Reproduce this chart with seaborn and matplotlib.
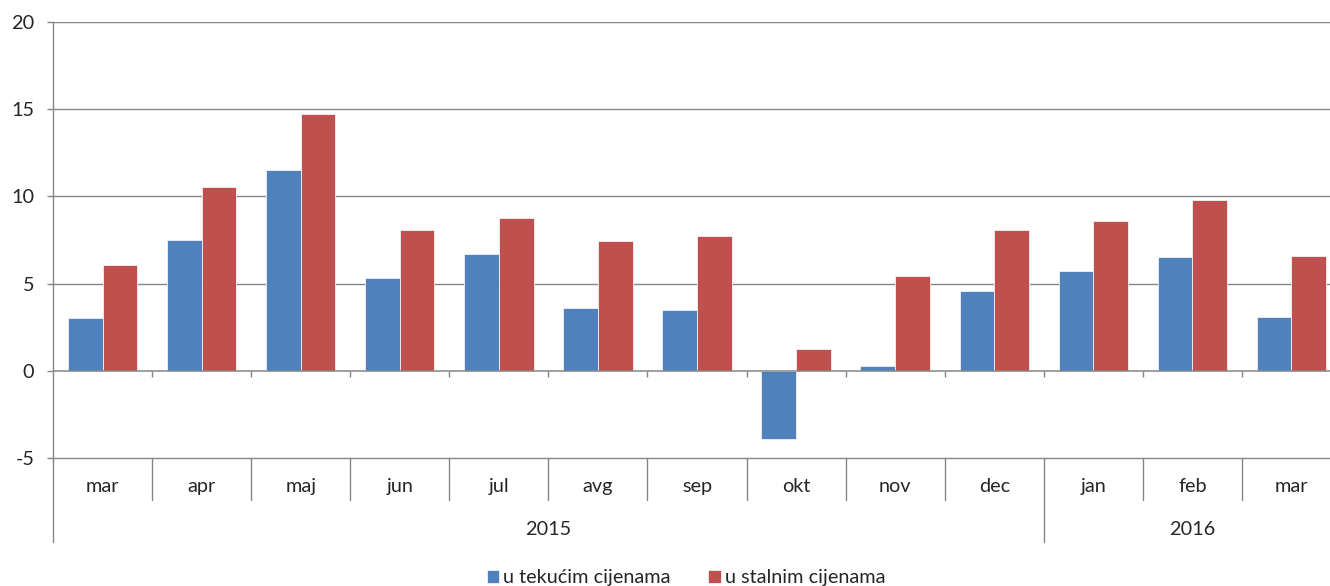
import pandas as pd
import numpy as np
import matplotlib
matplotlib.use('Agg')
import matplotlib.pyplot as plt
import matplotlib.transforms as mtransforms
import seaborn as sns

sns.set_style("white")
plt.rcParams['font.family'] = ['Lato', 'DejaVu Sans']
FS = 14.3
plt.rcParams['font.size'] = FS

# data
months = ['mar', 'apr', 'maj', 'jun', 'jul', 'avg', 'sep', 'okt', 'nov', 'dec', 'jan', 'feb', 'mar']
years = ['2015'] * 10 + ['2016'] * 3
tekuce = [3.0, 7.5, 11.5, 5.3, 6.7, 3.6, 3.5, -3.9, 0.3, 4.6, 5.75, 6.55, 3.1]
stalne = [6.05, 10.55, 14.7, 8.1, 8.75, 7.45, 7.75, 1.25, 5.45, 8.05, 8.6, 9.8, 6.6]
series = ['u tekućim cijenama', 'u stalnim cijenama']
colors = ['#4F81BD', '#C0504D']
y_ticks = [-5, 0, 5, 10, 15, 20]

periods = [f'{m} {y}' for m, y in zip(months, years)]
df = pd.DataFrame({
    'period': periods * 2,
    'value': tekuce + stalne,
    'serija': [series[0]] * len(periods) + [series[1]] * len(periods),
})

W, H = 1330, 586
fig = plt.figure(figsize=(W / 100, H / 100), dpi=100)
ax = fig.add_axes([53 / W, 128 / H, 1288 / W, 436 / H])

sns.barplot(data=df, x='period', y='value', hue='serija', order=periods,
            hue_order=series, palette=colors, width=0.7, ax=ax,
            edgecolor='#f2f2f2', linewidth=0.6, saturation=1)

grid_c = '#868686'
ax.set_ylim(-5, 20)
ax.set_xlim(-0.5, len(periods) - 0.5)
ax.set_yticks(y_ticks)
ax.set_yticklabels([str(t) for t in y_ticks])
ax.tick_params(axis='y', direction='out', length=4.5, width=1, color=grid_c, pad=9,
               labelsize=FS, left=True)
ax.set_xticks([])
ax.set_xlabel('')
ax.set_ylabel('')
for t in [5, 10, 15, 20]:
    ax.axhline(t, color=grid_c, lw=1, zorder=0)
ax.axhline(0, color=grid_c, lw=1.1, zorder=3)

for s in ['top', 'right']:
    ax.spines[s].set_visible(False)
ax.spines['left'].set_color(grid_c)
ax.spines['bottom'].set_color(grid_c)
ax.spines['left'].set_linewidth(1)
ax.spines['bottom'].set_linewidth(1)

# small tick marks under the zero line at category boundaries
bounds = np.arange(0.5, len(periods) - 0.5, 1.0)
ax.vlines(bounds, 0, -0.36, color=grid_c, lw=1, zorder=3)

# category table below the plot
trans = mtransforms.blended_transform_factory(ax.transData, ax.transAxes)
for i, m in enumerate(months):
    ax.text(i, -0.066, m, transform=trans, ha='center', va='center', fontsize=FS)
for b in bounds:
    year_split = years[int(b - 0.5)] != years[int(b + 0.5)]
    ax.plot([b, b], [0, -0.193 if year_split else -0.096], transform=trans,
            color=grid_c, lw=1, clip_on=False)
ax.plot([-0.5, -0.5], [0, -0.193], transform=trans, color=grid_c, lw=1, clip_on=False)

for y in sorted(set(years)):
    idx = [i for i, yy in enumerate(years) if yy == y]
    ax.text((idx[0] + idx[-1]) / 2, -0.163, y, transform=trans, ha='center',
            va='center', fontsize=FS)

handles, labels = ax.get_legend_handles_labels()
ax.get_legend().remove()
fig.legend(handles, labels, loc='lower center', bbox_to_anchor=(686 / W, -0.014),
           ncol=2, frameon=False, fontsize=FS, handlelength=0.62, handleheight=0.62,
           handletextpad=0.2, columnspacing=1.9, borderaxespad=0)

fig.savefig('out.png', dpi=100)
